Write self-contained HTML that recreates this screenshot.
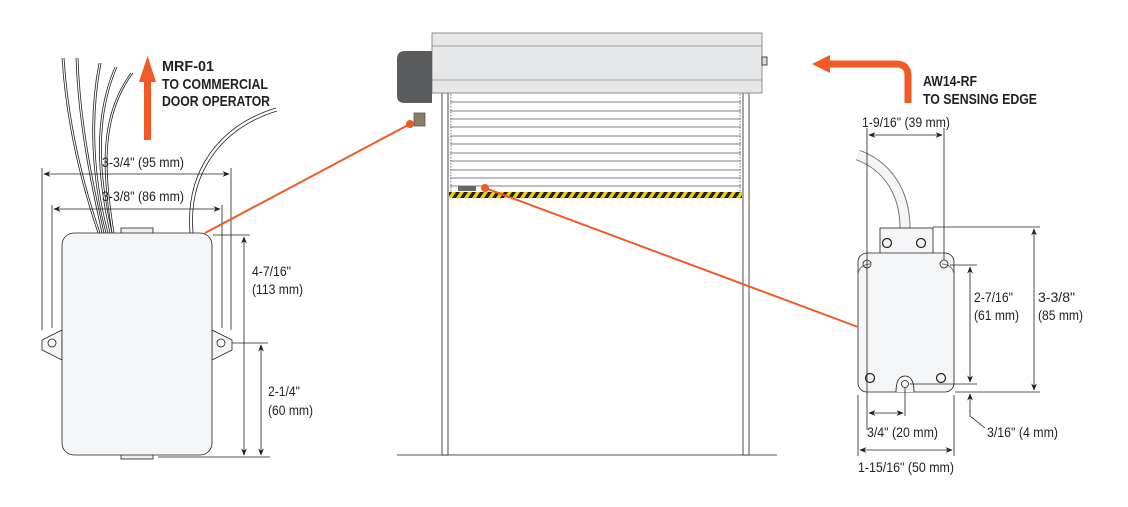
<!DOCTYPE html>
<html><head><meta charset="utf-8"><style>
html,body{margin:0;padding:0;background:#fff;}
svg{display:block;}
text{font-family:"Liberation Sans",sans-serif;font-size:14px;fill:#231f20;}
.b{font-weight:bold;font-size:15px;}
</style></head><body>
<svg width="1128" height="507" viewBox="0 0 1128 507" xmlns="http://www.w3.org/2000/svg">
<defs>
<marker id="a" viewBox="0 0 10 10" refX="9" refY="5" markerWidth="9" markerHeight="9" orient="auto-start-reverse"><path d="M0,1 L10,5 L0,9 L3,5Z" fill="#231f20"/></marker>
<pattern id="hz" width="8" height="6" patternUnits="userSpaceOnUse"><rect width="8" height="6" fill="#231f20"/><path d="M0,6 L4,0 L8,0 L4,6Z" fill="#f2d200"/></pattern>
</defs>
<g stroke="#231f20" fill="none" stroke-width="0.8">
<path d="M62,58 C66,120 80,180 98,233"/><path d="M64,58 C68,120 82,180 100,233"/>
<path d="M76,58 C78,120 90,180 102,233"/><path d="M78,58 C80,120 92,180 104,233"/>
<path d="M99,63 C88,120 92,180 106,233"/><path d="M101,63 C90,120 94,180 108,233"/>
<path d="M115,67 C92,120 98,180 110,233"/><path d="M117,67 C94,120 100,180 112,233"/>
<path d="M131,73 C96,120 104,180 112,233"/><path d="M133,73 C98,120 106,180 114,233"/>
<path d="M276,108 C220,125 185,170 190,233"/><path d="M277,111 C222,128 188,172 193,233"/>
<path d="M62,330 L42,340 L42,350 L62,360Z" fill="#f4f5f6"/><circle cx="52" cy="343" r="4"/>
<path d="M212,330 L232,340 L232,350 L212,360Z" fill="#f4f5f6"/><circle cx="221" cy="343" r="4"/>
<rect x="121" y="228" width="32" height="6" fill="#eee"/><rect x="121" y="452" width="32" height="7" fill="#eee"/>
<rect x="62" y="233" width="150" height="222" rx="12" fill="#f4f5f6"/>
<line x1="42" y1="168" x2="42" y2="330"/><line x1="231" y1="168" x2="231" y2="330"/>
<line x1="52" y1="205" x2="52" y2="328"/><line x1="222" y1="205" x2="222" y2="328"/>
<line x1="44" y1="174" x2="229" y2="174" marker-start="url(#a)" marker-end="url(#a)"/>
<line x1="54" y1="209" x2="220" y2="209" marker-start="url(#a)" marker-end="url(#a)"/>
<line x1="213" y1="235" x2="250" y2="235"/><line x1="158" y1="457" x2="270" y2="457"/>
<line x1="232" y1="343" x2="268" y2="343"/>
<line x1="244" y1="237" x2="244" y2="455" marker-start="url(#a)" marker-end="url(#a)"/>
<line x1="261" y1="345" x2="261" y2="455" marker-start="url(#a)" marker-end="url(#a)"/>
<line x1="397" y1="455" x2="777" y2="455"/>
<rect x="442" y="93" width="6" height="362" fill="#fff"/><rect x="743" y="93" width="6" height="362" fill="#fff"/>
<rect x="449" y="93" width="293" height="99" fill="#fff" stroke="none"/>
<g stroke="#555">
<line x1="450" y1="102" x2="741" y2="102"/><line x1="450" y1="111" x2="741" y2="111"/><line x1="450" y1="119" x2="741" y2="119"/>
<line x1="450" y1="127" x2="741" y2="127"/><line x1="450" y1="136" x2="741" y2="136"/><line x1="450" y1="144" x2="741" y2="144"/>
<line x1="450" y1="153" x2="741" y2="153"/><line x1="450" y1="161" x2="741" y2="161"/><line x1="450" y1="170" x2="741" y2="170"/>
<line x1="450" y1="178" x2="741" y2="178"/><line x1="450" y1="186" x2="741" y2="186"/>
<line x1="451" y1="94" x2="451" y2="192" stroke-dasharray="1.5 1.5"/><line x1="740" y1="94" x2="740" y2="192" stroke-dasharray="1.5 1.5"/>
</g>
<rect x="449" y="192" width="293" height="6" fill="url(#hz)" stroke="none"/>
<rect x="458" y="186" width="18" height="5" fill="#666" stroke="none"/>
<rect x="432" y="33" width="330" height="60" fill="#e6e7e8" stroke="#777"/>
<line x1="432" y1="46" x2="762" y2="46" stroke="#888"/><line x1="432" y1="80" x2="762" y2="80" stroke="#888"/>
<path d="M432,51 L405,51 Q397,51 397,59 L397,96 Q397,103 405,103 L432,103Z" fill="#5a5b5d" stroke="none"/>
<rect x="762" y="57" width="5" height="8" fill="#ddd"/>
<rect x="414" y="113" width="11" height="13" fill="#8a7d6c" stroke="#555"/>
<path d="M858,155 C885,165 905,190 905,228" stroke="#777" stroke-width="11"/>
<path d="M858,155 C885,165 905,190 905,228" stroke="#f4f5f6" stroke-width="9"/>
<rect x="880" y="228" width="53" height="28" fill="#f4f5f6"/>
<rect x="858" y="253" width="96" height="139" rx="9" fill="#f4f5f6"/>
<path d="M858,276 Q858,265 870,264 M954,276 Q954,265 942,264" stroke="#555"/>
<circle cx="887" cy="243" r="4.5" stroke-width="1.2"/><circle cx="921" cy="243" r="4.5" stroke-width="1.2"/>
<circle cx="870" cy="378" r="4.5" stroke-width="1.2"/><circle cx="941" cy="378" r="4.5" stroke-width="1.2"/>
<circle cx="867" cy="264" r="4"/><circle cx="944" cy="264" r="4"/>
<path d="M896,392 Q896,376 905,376 Q914,376 914,392" fill="#f4f5f6"/><circle cx="905" cy="384" r="3.5"/>
<line x1="867" y1="128" x2="867" y2="430"/><line x1="944" y1="128" x2="944" y2="260"/>
<line x1="869" y1="135" x2="942" y2="135" marker-start="url(#a)" marker-end="url(#a)"/>
<line x1="933" y1="227" x2="1040" y2="227"/><line x1="950" y1="265" x2="977" y2="265"/>
<line x1="910" y1="384" x2="977" y2="384"/><line x1="955" y1="392" x2="1040" y2="392"/>
<line x1="970" y1="267" x2="970" y2="382" marker-start="url(#a)" marker-end="url(#a)"/>
<line x1="1034" y1="229" x2="1034" y2="390" marker-start="url(#a)" marker-end="url(#a)"/>
<path d="M970,410 L970,416 L985,428" /><line x1="970" y1="412" x2="970" y2="394" marker-end="url(#a)"/>
<line x1="905" y1="388" x2="905" y2="416"/>
<line x1="869" y1="413" x2="903" y2="413" marker-start="url(#a)" marker-end="url(#a)"/>
<line x1="858" y1="395" x2="858" y2="456"/><line x1="954" y1="395" x2="954" y2="456"/>
<line x1="860" y1="450" x2="952" y2="450" marker-start="url(#a)" marker-end="url(#a)"/>
</g>
<g stroke="#f15a24" fill="#f15a24">
<line x1="205" y1="233" x2="410" y2="124" stroke-width="2"/><circle cx="410" cy="124" r="3.5"/>
<line x1="485" y1="188" x2="858" y2="327" stroke-width="2"/><circle cx="485" cy="188" r="3.5"/>
<rect x="144" y="80" width="7" height="60" stroke="none"/><path d="M139,82 L147.5,56 L156,82Z" stroke="none"/>
<path d="M908,103 L908,76 Q908,64 896,64 L828,64" fill="none" stroke-width="7"/>
<path d="M830,55 L812,64 L830,73Z" stroke="none"/>
</g>
<text class="b" x="162" y="71" textLength="52" lengthAdjust="spacingAndGlyphs">MRF-01</text>
<text class="b" x="162" y="89" textLength="106" lengthAdjust="spacingAndGlyphs">TO COMMERCIAL</text>
<text class="b" x="162" y="106" textLength="108" lengthAdjust="spacingAndGlyphs">DOOR OPERATOR</text>
<text class="b" x="923" y="86" textLength="54" lengthAdjust="spacingAndGlyphs">AW14-RF</text>
<text class="b" x="923" y="104" textLength="114" lengthAdjust="spacingAndGlyphs">TO SENSING EDGE</text>
<text x="102" y="167" textLength="82" lengthAdjust="spacingAndGlyphs">3-3/4" (95 mm)</text>
<text x="102" y="201" textLength="82" lengthAdjust="spacingAndGlyphs">3-3/8" (86 mm)</text>
<text x="252" y="276" textLength="39" lengthAdjust="spacingAndGlyphs">4-7/16"</text><text x="252" y="294" textLength="51" lengthAdjust="spacingAndGlyphs">(113 mm)</text>
<text x="268" y="396" textLength="32" lengthAdjust="spacingAndGlyphs">2-1/4"</text><text x="268" y="415" textLength="45" lengthAdjust="spacingAndGlyphs">(60 mm)</text>
<text x="862" y="127" textLength="88" lengthAdjust="spacingAndGlyphs">1-9/16" (39 mm)</text>
<text x="974" y="302" textLength="39" lengthAdjust="spacingAndGlyphs">2-7/16"</text><text x="974" y="320" textLength="45" lengthAdjust="spacingAndGlyphs">(61 mm)</text>
<text x="1038" y="302" textLength="37" lengthAdjust="spacingAndGlyphs">3-3/8"</text><text x="1038" y="320" textLength="45" lengthAdjust="spacingAndGlyphs">(85 mm)</text>
<text x="867" y="437" textLength="71" lengthAdjust="spacingAndGlyphs">3/4" (20 mm)</text>
<text x="987" y="437" textLength="71" lengthAdjust="spacingAndGlyphs">3/16" (4 mm)</text>
<text x="858" y="472" textLength="96" lengthAdjust="spacingAndGlyphs">1-15/16" (50 mm)</text>
</svg>
</body></html>
